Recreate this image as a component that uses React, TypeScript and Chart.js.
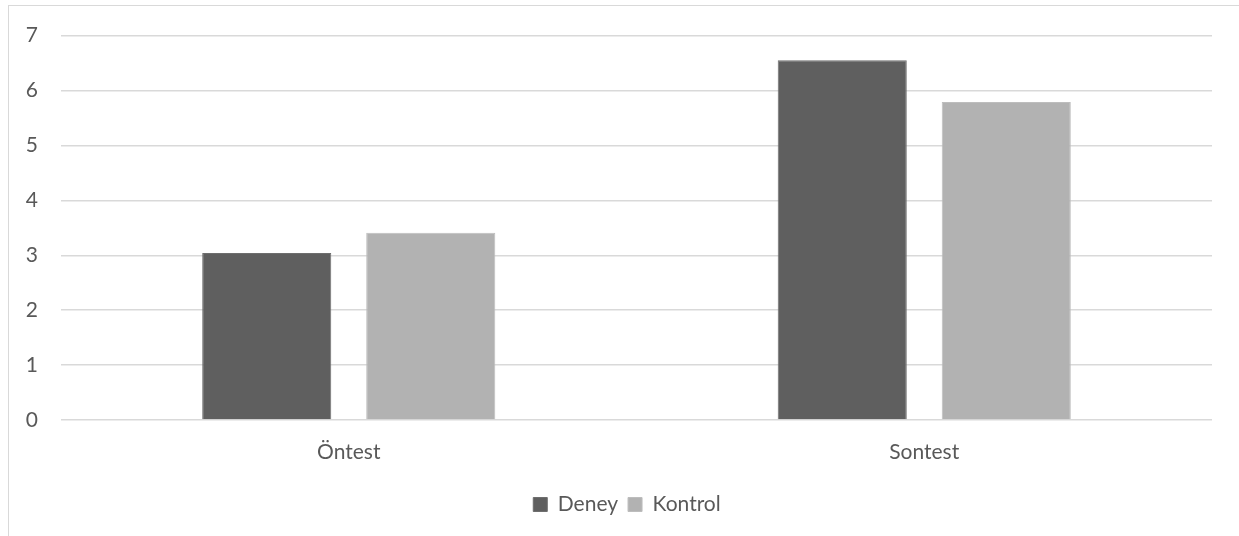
import React, { useEffect, useRef } from "react";
import { Chart, registerables } from "chart.js";

Chart.register(...registerables);

const categories = ["Öntest", "Sontest"];
const deneyValues = [3.04, 6.55];
const kontrolValues = [3.41, 5.79];
const yTicks = [0, 1, 2, 3, 4, 5, 6, 7];

const FONT = "Lato, 'Open Sans', sans-serif";
const TEXT = "#595959";

const legendShift = {
  id: "legendShift",
  afterLayout(chart: any) {
    if (chart.legend) {
      chart.legend.left = 42;
    }
  },
};

export default function App() {
  const ref = useRef<HTMLCanvasElement | null>(null);

  useEffect(() => {
    if (!ref.current) return;
    const chart = new Chart(ref.current, {
      type: "bar",
      data: {
        labels: categories,
        datasets: [
          {
            label: "Deney",
            data: deneyValues,
            backgroundColor: "#5f5f5f",
            borderColor: "#6e6e6e",
            borderWidth: 1,
            categoryPercentage: 0.57,
            barPercentage: 0.787,
          },
          {
            label: "Kontrol",
            data: kontrolValues,
            backgroundColor: "#b2b2b2",
            borderColor: "#bdbdbd",
            borderWidth: 1,
            categoryPercentage: 0.57,
            barPercentage: 0.787,
          },
        ],
      },
      options: {
        animation: false,
        responsive: false,
        maintainAspectRatio: false,
        layout: { padding: { left: 0, right: 27, top: 33, bottom: 11 } },
        scales: {
          x: {
            grid: { display: false, drawTicks: false },
            border: { display: false },
            ticks: { color: TEXT, font: { family: FONT, size: 21 }, padding: 20 },
            afterFit: (s: any) => {
              s.height = 64;
            },
          },
          y: {
            min: 0,
            max: 7,
            afterBuildTicks: (s: any) => {
              s.ticks = yTicks.map((v) => ({ value: v }));
            },
            grid: { color: "#d9d9d9", lineWidth: 1.5, drawTicks: false },
            border: { display: false },
            ticks: { color: TEXT, font: { family: FONT, size: 21 }, padding: 23 },
            afterFit: (s: any) => {
              s.width = 61;
            },
          },
        },
        plugins: {
          legend: {
            position: "bottom",
            labels: {
              color: TEXT,
              font: { family: FONT, size: 21 },
              boxWidth: 14,
              boxHeight: 14,
              padding: 10,
            },
          },
          tooltip: { enabled: false },
        },
      },
      plugins: [legendShift],
    });
    return () => chart.destroy();
  }, []);

  return (
    <div
      style={{
        position: "fixed",
        left: 0,
        top: 0,
        width: 1239,
        height: 536,
        overflow: "hidden",
        background: "#fff",
      }}
    >
      <div
        style={{
          position: "absolute",
          left: 8,
          top: 5,
          width: 1400,
          height: 700,
          border: "1px solid #d9d9d9",
        }}
      />
      <canvas
        ref={ref}
        width={1239}
        height={536}
        style={{ position: "absolute", left: 0, top: 0, width: 1239, height: 536 }}
      />
    </div>
  );
}
